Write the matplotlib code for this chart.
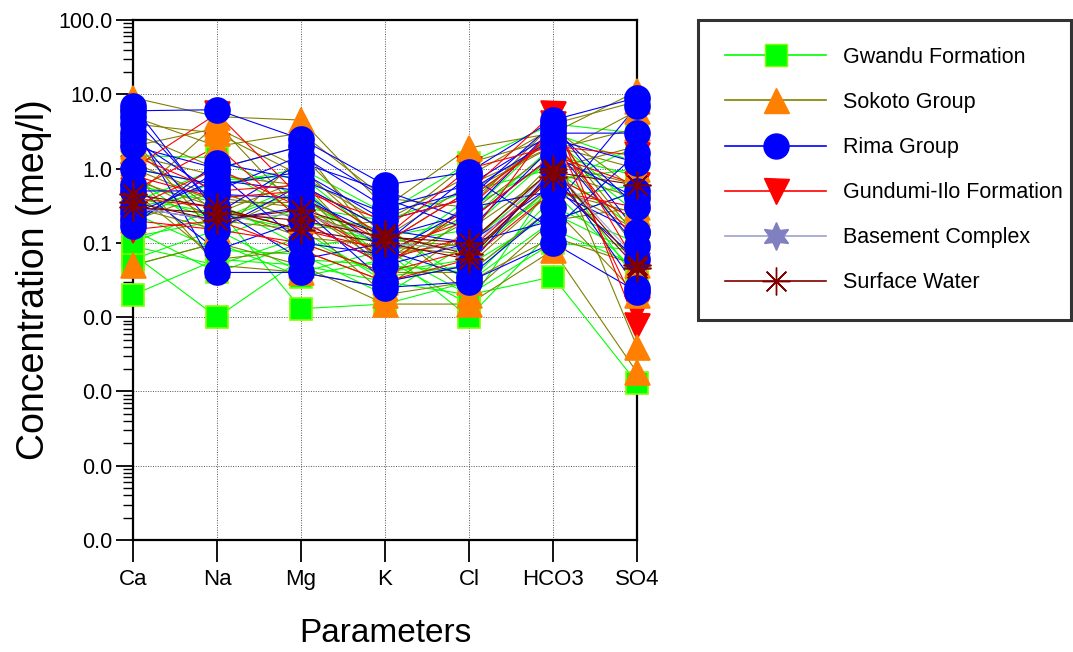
import numpy as np
import matplotlib
matplotlib.use("Agg")
import matplotlib.pyplot as plt
from matplotlib.lines import Line2D
from matplotlib.ticker import LogLocator, FormatStrFormatter, NullFormatter

params = ["Ca", "Na", "Mg", "K", "Cl", "HCO3", "SO4"]

# meq/l per sample, columns follow params
gwandu = [
    [0.02, 0.06, 0.05, 0.03, 0.02, 0.035, 0.0013],
    [0.07, 0.01, 0.06, 0.05, 0.04, 0.3, 0.1],
    [0.1, 0.3, 0.013, 0.015, 0.03, 0.2, 0.5],
    [1.5, 1.4, 0.4, 0.08, 0.01, 0.15, 0.05],
    [0.3, 0.5, 0.2, 0.1, 0.15, 1.5, 0.8],
    [0.5, 0.2, 0.5, 0.06, 0.4, 2.5, 0.3],
    [0.15, 0.04, 0.1, 0.04, 0.06, 0.6, 2.0],
    [0.8, 0.12, 0.3, 0.2, 0.5, 1.0, 0.15],
    [0.2, 0.7, 0.8, 0.1, 0.08, 0.5, 0.04],
    [0.4, 0.25, 0.15, 0.03, 0.25, 3.0, 1.2],
    [0.06, 0.15, 0.04, 0.08, 0.02, 0.1, 0.08],
    [1.0, 0.6, 1.0, 0.25, 1.2, 4.0, 3.0],
    [0.25, 0.08, 0.07, 0.02, 0.1, 0.8, 0.2],
    [0.35, 1.0, 0.25, 0.15, 0.03, 0.4, 0.6],
    [0.12, 0.2, 0.6, 0.05, 0.3, 1.2, 0.03],
    [0.09, 0.05, 0.12, 0.035, 0.05, 0.25, 0.07],
    [0.6, 0.35, 0.09, 0.12, 0.2, 2.0, 0.25],
    [0.05, 0.1, 0.035, 0.06, 0.015, 0.7, 1.0],
]
sokoto = [
    [9.0, 5.0, 4.5, 0.3, 1.9, 3.0, 11.0],
    [0.05, 0.1, 0.05, 0.015, 0.015, 0.08, 0.0018],
    [2.0, 3.5, 1.0, 0.1, 0.5, 2.0, 0.004],
    [1.2, 0.4, 0.3, 0.05, 0.2, 1.5, 6.0],
    [0.8, 0.2, 0.15, 0.2, 0.8, 3.5, 0.5],
    [3.0, 1.0, 2.0, 0.07, 0.1, 1.0, 2.0],
    [0.5, 0.06, 0.08, 0.03, 0.05, 0.5, 0.25],
    [1.5, 0.8, 0.6, 0.15, 1.2, 2.5, 0.08],
    [0.3, 0.15, 0.5, 0.04, 0.04, 0.3, 0.02],
    [5.0, 2.0, 3.0, 0.4, 0.3, 4.0, 8.0],
    [0.7, 0.3, 0.12, 0.09, 0.07, 0.6, 0.15],
    [0.2, 0.5, 0.2, 0.02, 0.03, 0.12, 0.05],
    [2.5, 0.12, 1.5, 0.12, 0.6, 2.0, 1.0],
    [0.9, 0.05, 0.04, 0.025, 0.15, 0.9, 0.4],
    [1.0, 0.35, 0.35, 0.06, 0.25, 1.8, 3.5],
    [4.0, 3.0, 0.8, 0.18, 0.02, 0.2, 0.3],
    [0.4, 4.0, 0.25, 0.11, 0.09, 1.2, 0.6],
    [1.8, 0.25, 0.7, 0.045, 0.35, 3.0, 0.12],
]
rima = [
    [6.0, 6.2, 2.5, 0.6, 0.9, 4.5, 9.0],
    [4.0, 0.04, 0.04, 0.025, 0.03, 0.1, 0.022],
    [0.2, 0.9, 0.1, 0.07, 0.3, 0.5, 0.14],
    [0.5, 0.5, 1.5, 0.3, 0.6, 3.0, 3.0],
    [3.0, 0.15, 0.6, 0.15, 0.1, 0.2, 0.5],
    [2.0, 1.0, 2.0, 0.4, 0.15, 2.0, 0.09],
    [0.3, 0.2, 0.3, 0.03, 0.05, 1.0, 0.025],
    [5.0, 0.3, 0.06, 0.1, 0.8, 0.15, 1.6],
    [1.0, 0.6, 0.9, 0.2, 0.4, 4.0, 0.14],
    [0.6, 0.08, 0.2, 0.05, 0.1, 0.6, 0.06],
    [7.0, 0.25, 1.2, 0.5, 0.2, 1.5, 0.4],
    [0.25, 0.7, 0.5, 0.08, 0.035, 0.3, 7.0],
    [0.17, 1.2, 0.7, 0.25, 0.5, 2.5, 1.2],
    [2.5, 0.45, 0.4, 0.12, 0.25, 3.5, 0.3],
]
gundumi = [
    [1.0, 5.5, 0.4, 0.1, 0.5, 5.5, 0.0075],
    [0.5, 2.0, 0.2, 0.05, 0.3, 3.0, 0.013],
    [0.4, 0.3, 0.15, 0.08, 0.2, 1.5, 0.6],
    [0.2, 0.15, 0.1, 0.04, 0.08, 0.8, 0.2],
    [1.5, 0.5, 0.6, 0.12, 1.0, 2.0, 1.5],
    [0.3, 1.0, 0.3, 0.06, 0.12, 4.0, 0.05],
    [0.15, 0.2, 0.08, 0.03, 0.06, 0.5, 0.3],
    [0.8, 0.4, 0.5, 0.2, 0.4, 2.5, 0.1],
]
basement = [
    [0.3, 0.2, 0.25, 0.1, 0.08, 1.0, 0.06],
]
surface = [
    [0.3, 0.25, 0.2, 0.12, 0.1, 1.0, 0.05],
    [0.35, 0.2, 0.28, 0.13, 0.07, 0.77, 0.046],
    [0.45, 0.3, 0.15, 0.1, 0.06, 0.9, 0.6],
]

groups = [
    # name, data, line colour, marker, face, edge, size
    ("Gwandu Formation", gwandu, "#00ff00", "s", "#00ff00", "#80ff00", 16),
    ("Sokoto Group", sokoto, "#808000", "^", "#ff8000", "#ff8000", 18),
    ("Rima Group", rima, "#0000ff", "o", "#0000ff", "#0000ff", 18),
    ("Gundumi-Ilo Formation", gundumi, "#ff0000", "v", "#ff0000", "#ff0000", 18),
    ("Basement Complex", basement, "#a0a0d0", (6, 1, 0), "#8080c0", "#8080c0", 20),
    ("Surface Water", surface, "#800000", (8, 2, 0), "#800000", "#800000", 20),
]
draw_order = [0, 3, 1, 4, 2, 5]

plt.rcParams["font.family"] = ["Liberation Sans", "DejaVu Sans"]

fig = plt.figure(figsize=(10.73, 6.52), dpi=100)
ax = fig.add_axes([0.124, 0.1718, 0.4697, 0.7975])

x = np.arange(len(params))

for name, data, lc, mk, fc, ec, ms in groups:
    for row in data:
        ax.plot(x, row, color=lc, lw=0.8, zorder=2, clip_on=False)

for k, gi in enumerate(draw_order):
    name, data, lc, mk, fc, ec, ms = groups[gi]
    for row in data:
        ax.plot(x, row, ls="none", marker=mk, ms=ms, mfc=fc, mec=ec,
                mew=1.2, zorder=3 + k, clip_on=False)

ax.set_yscale("log")
ax.set_ylim(1e-5, 100)
ax.set_xlim(0, 6)
ax.set_xticks(x)
ax.set_xticklabels(params, fontsize=16)
ax.yaxis.set_major_locator(LogLocator(base=10, numticks=10))
ax.yaxis.set_minor_locator(LogLocator(base=10, subs=np.arange(2, 10), numticks=10))
ax.yaxis.set_major_formatter(FormatStrFormatter("%.1f"))
ax.yaxis.set_minor_formatter(NullFormatter())
ax.tick_params(axis="y", which="major", labelsize=15.5, length=12, width=1.3,
               direction="out", pad=3)
ax.tick_params(axis="y", which="minor", length=7, width=1.0, direction="out")
ax.tick_params(axis="x", which="major", length=16, width=1.3, direction="out", pad=5)

ax.grid(True, which="major", color="#555555", ls=(0, (1, 1.5)), lw=0.7, zorder=0)
for s in ax.spines.values():
    s.set_linewidth(1.6)
ax.set_axisbelow(True)

ax.set_ylabel("Concentration (meq/l)", fontsize=27, labelpad=4)
ax.set_xlabel("Parameters", fontsize=24, labelpad=20)

handles = []
for name, data, lc, mk, fc, ec, ms in groups:
    handles.append(Line2D([], [], color=lc, lw=1.2, marker=mk, ms=ms,
                          mfc=fc, mec=ec, label=name))
leg = fig.legend(handles=handles, loc="upper left",
                 bbox_to_anchor=(698 / 1073, 1 - 20 / 652, 373 / 1073, 0.0),
                 mode="expand", fontsize=15.5, frameon=True, fancybox=False,
                 handlelength=4.7, handletextpad=0.8, labelspacing=1.12,
                 borderpad=1.25, borderaxespad=0, edgecolor="black")
leg.get_frame().set_linewidth(2.2)

fig.savefig("out.png", dpi=100)
